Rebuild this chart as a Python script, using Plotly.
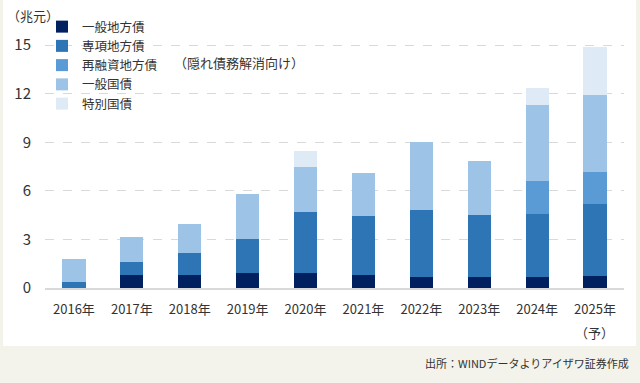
import plotly.graph_objects as go

years = ["2016年", "2017年", "2018年", "2019年", "2020年", "2021年", "2022年", "2023年", "2024年", "2025年"]
local_general = [0.0, 0.82, 0.82, 0.93, 0.93, 0.82, 0.70, 0.70, 0.70, 0.76]
local_special = [0.37, 0.81, 1.34, 2.10, 3.76, 3.63, 4.12, 3.81, 3.87, 4.43]
local_refinance = [0, 0, 0, 0, 0, 0, 0, 0, 2.04, 1.97]
gov_general = [1.42, 1.52, 1.79, 2.78, 2.78, 2.65, 4.20, 3.33, 4.70, 4.77]
gov_special = [0, 0, 0, 0, 0.99, 0, 0, 0, 1.05, 2.97]

series = [
    ("一般地方債", local_general, "#002060"),
    ("専項地方債", local_special, "#2e75b6"),
    ("再融資地方債", local_refinance, "#5b9bd5"),
    ("一般国債", gov_general, "#9dc3e6"),
    ("特別国債", gov_special, "#deebf7"),
]
y_ticks = [0, 3, 6, 9, 12, 15]

FONT = "Noto Sans CJK JP"
fig = go.Figure()
for name, vals, col in series:
    fig.add_trace(go.Bar(x=years, y=vals, name=name, marker=dict(color=col, line=dict(width=0)),
                         width=0.4))

W = 579.0
H = 259.0
def px(x):
    return (x - 45) / W
def py(y):
    return (288 - y) / H

fig.update_layout(
    width=640, height=383,
    barmode="stack",
    paper_bgcolor="#f3f3eb",
    plot_bgcolor="white",
    margin=dict(l=45, r=16, t=29, b=95),
    font=dict(family=FONT, size=13, color="#333333"),
    showlegend=True,
    legend=dict(traceorder="normal", x=px(42), y=py(12), xanchor="left", yanchor="top",
                bgcolor="rgba(0,0,0,0)", font=dict(size=12.5, color="#333333"),
                itemwidth=30, tracegroupgap=0),
    xaxis=dict(showgrid=False, showline=True, linecolor="#d9d9d9", linewidth=2,
               ticks="", tickfont=dict(size=13, color="#333333"), ticklabelstandoff=8),
    yaxis=dict(range=[0, 16], tickvals=y_ticks, showgrid=True, gridcolor="#d9d9d9",
               griddash="dash", gridwidth=1, zeroline=False, ticks="",
               tickfont=dict(size=15, color="#333333"), ticklabelstandoff=13),
    bargap=0.6,
)

fig.add_shape(type="rect", xref="paper", yref="paper", x0=px(3), x1=px(636),
              y0=py(346), y1=py(-2), fillcolor="white", line=dict(width=0), layer="below")

fig.add_annotation(text="（兆元）", xref="paper", yref="paper", x=px(5), y=py(15),
                   xanchor="left", yanchor="middle", showarrow=False, font=dict(size=13, color="#333333"))
fig.add_annotation(text="（隠れ債務解消向け）", xref="paper", yref="paper", x=px(172), y=py(63),
                   xanchor="left", yanchor="middle", showarrow=False, font=dict(size=13, color="#333333"))
fig.add_annotation(text="（予）", xref="paper", yref="paper", x=px(594), y=py(332),
                   xanchor="center", yanchor="middle", showarrow=False, font=dict(size=13, color="#333333"))
fig.add_annotation(text="出所：WINDデータよりアイザワ証券作成", xref="paper", yref="paper", x=px(631),
                   y=py(363), xanchor="right", yanchor="middle", showarrow=False,
                   font=dict(size=11, color="#333333"))

fig.write_html("out.html", config={"displayModeBar": False},
               post_script="document.body.style.margin='0';document.body.style.padding='0';")
